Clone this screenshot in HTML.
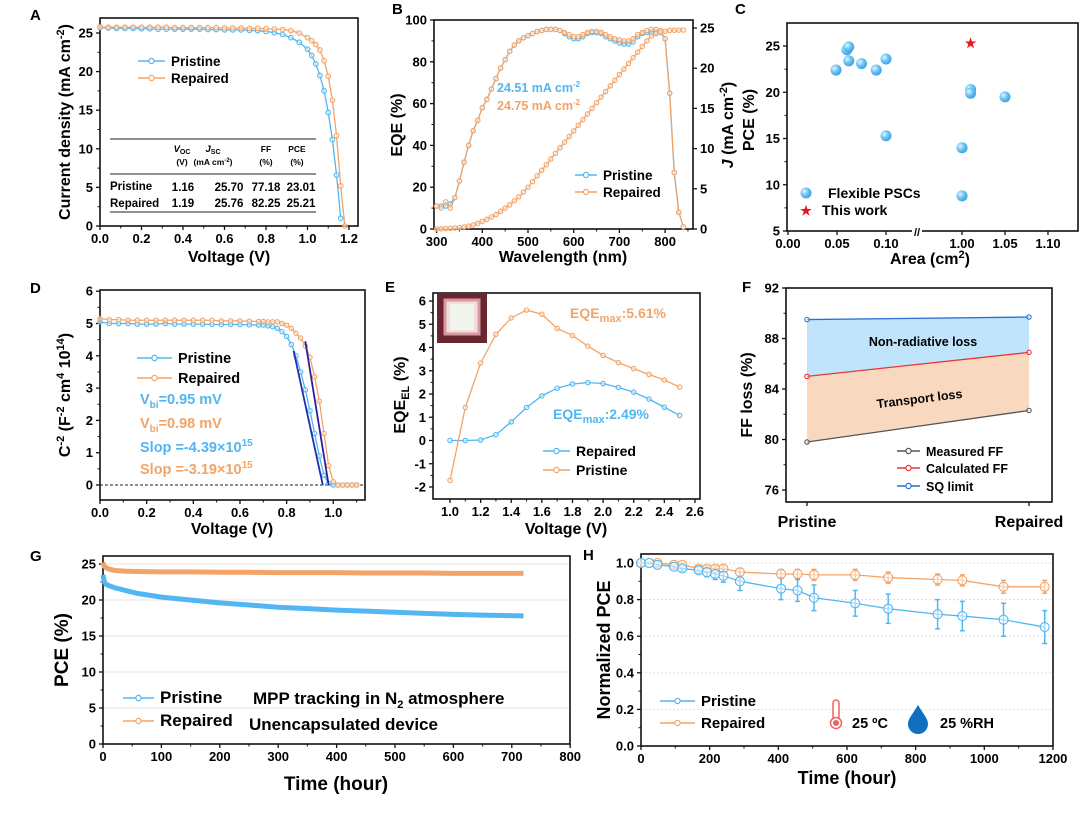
<!DOCTYPE html>
<html><head><meta charset="utf-8"><style>
body{margin:0;background:#fff}
svg{display:block;font-family:"Liberation Sans",sans-serif;font-weight:bold}
</style></head><body>
<svg id="fig" width="1080" height="815" viewBox="0 0 1080 815" xmlns="http://www.w3.org/2000/svg">
<defs>
<radialGradient id="ball" cx="0.35" cy="0.35" r="0.7"><stop offset="0" stop-color="#e6f5ff"/><stop offset="0.5" stop-color="#6cc4f5"/><stop offset="1" stop-color="#3a9ee0"/></radialGradient>
</defs>
</svg>
<script>
// ---------- data ----------
// A
const aVolt=[0,0.04,0.08,0.12,0.16,0.2,0.24,0.28,0.32,0.36,0.4,0.44,0.48,0.52,0.56,0.6,0.64,0.68,0.72,0.76,0.8,0.84,0.88,0.92,0.96,1.0,1.02,1.04,1.06,1.08,1.1,1.12,1.14,1.16];
const aPristine=[25.7,25.65,25.6,25.6,25.6,25.55,25.55,25.5,25.5,25.5,25.5,25.5,25.5,25.45,25.45,25.4,25.4,25.4,25.35,25.3,25.2,25.05,24.8,24.4,23.8,22.9,22.1,21.0,19.5,17.5,14.7,11.2,6.6,1.0];
const aVolt2=[0,0.04,0.08,0.12,0.16,0.2,0.24,0.28,0.32,0.36,0.4,0.44,0.48,0.52,0.56,0.6,0.64,0.68,0.72,0.76,0.8,0.84,0.88,0.92,0.96,1.0,1.02,1.04,1.06,1.08,1.1,1.12,1.14,1.16,1.18];
const aRepaired=[25.76,25.75,25.75,25.75,25.75,25.75,25.75,25.75,25.75,25.7,25.7,25.7,25.7,25.7,25.7,25.65,25.65,25.65,25.6,25.6,25.55,25.5,25.45,25.3,25.0,24.4,24.0,23.5,22.8,21.4,19.4,16.3,11.7,5.2,0.0];
// B
const bWave=[300,310,320,330,340,350,360,370,380,390,400,410,420,430,440,450,460,470,480,490,500,510,520,530,540,550,560,570,580,590,600,610,620,630,640,650,660,670,680,690,700,710,720,730,740,750,760,770,780,790,800,810,820,830,840];
const bEqeRep=[11,10,13,10,15,23,32,40,47,52,58,62,67,72,77,81,85,88,90,91.5,92.5,93.5,94.5,95,95.5,95.5,95.5,95,94,93,92,92,93,94,94.5,94.5,94,93,92,91,90.5,90,90,91,93,94,95,95.5,95.5,95,91,65,27,8,1];
const bEqePri=[11,11,11,12,15,23,32,40,47,52,58,62,67,72,77,81,85,88,90,91.5,92.5,93.5,94.5,95,95.5,95.5,95.5,95,93.5,92,91,91,92,93.5,94,94,93.5,92,91,90,89,88.5,88.5,89.5,92,93.5,94,94,94,94,91,65,27,8,1];
const bJint=[0,0.02,0.05,0.08,0.12,0.17,0.25,0.35,0.5,0.7,0.95,1.2,1.5,1.8,2.2,2.6,3.0,3.5,4.0,4.6,5.2,5.9,6.6,7.3,8.0,8.7,9.4,10.1,10.8,11.5,12.2,12.9,13.6,14.3,15.0,15.7,16.4,17.1,17.8,18.5,19.2,19.9,20.6,21.3,22.0,22.7,23.4,24.0,24.3,24.5,24.6,24.7,24.72,24.74,24.75];
// C
const cArea=[0.049,0.06,0.062,0.062,0.075,0.09,0.1,0.1,1.0,1.0,1.01,1.01,1.05];
const cPce=[22.4,24.6,24.9,23.4,23.1,22.4,23.6,15.3,14.0,8.8,20.3,19.9,19.5];
const cStarArea=[1.01];
const cStarPce=[25.4];
// D
const dVolt=[0,0.04,0.08,0.12,0.16,0.2,0.24,0.28,0.32,0.36,0.4,0.44,0.48,0.52,0.56,0.6,0.64,0.68,0.7,0.72,0.74,0.76,0.78,0.8,0.82,0.84,0.86,0.88,0.9,0.92,0.94,0.96,0.98,1.0,1.02,1.04,1.06,1.08,1.1];
const dPristine=[5.05,5.0,5.0,5.0,4.98,4.98,4.98,5.0,4.98,4.98,4.98,4.98,4.97,4.97,4.97,4.97,4.96,4.95,4.95,4.93,4.9,4.85,4.75,4.6,4.35,4.0,3.5,2.95,2.3,1.6,0.9,0.3,0.05,0,0,0,0,0,0];
const dRepaired=[5.15,5.12,5.12,5.1,5.1,5.1,5.1,5.1,5.1,5.1,5.1,5.1,5.1,5.08,5.08,5.08,5.07,5.06,5.06,5.05,5.05,5.05,5.0,4.95,4.85,4.7,4.55,4.3,3.95,3.35,2.6,1.6,0.6,0.1,0,0,0,0,0];
const dFitPriV=[0.83,0.955];
const dFitPriC=[4.15,0];
const dFitRepV=[0.88,0.98];
const dFitRepC=[4.45,0];
// E
const eVolt=[1.0,1.1,1.2,1.3,1.4,1.5,1.6,1.7,1.8,1.9,2.0,2.1,2.2,2.3,2.4,2.5];
const eRepaired=[0,0,0.02,0.25,0.8,1.42,1.92,2.25,2.43,2.49,2.45,2.28,2.08,1.78,1.43,1.08];
const ePristine=[-1.72,1.42,3.33,4.57,5.27,5.61,5.43,4.82,4.52,4.06,3.66,3.35,3.09,2.84,2.6,2.3];
// F
const fCats=["Pristine","Repaired"];
const fMeasured=[79.8,82.3];
const fCalculated=[85.0,86.9];
const fSQ=[89.5,89.7];
// G
const gTime=[0,2,5,10,20,40,60,100,150,200,250,300,350,400,450,500,550,600,650,720];
const gPristine=[23.5,22.6,22.2,22.0,21.7,21.3,20.9,20.4,20.0,19.6,19.3,19.0,18.8,18.6,18.45,18.3,18.15,18.0,17.9,17.8];
const gRepaired=[25.2,24.7,24.5,24.3,24.1,24.0,23.95,23.9,23.9,23.85,23.85,23.8,23.8,23.8,23.75,23.75,23.75,23.7,23.7,23.7];
// H
const hTime=[0,24,48,96,120,168,192,216,240,288,408,456,504,624,720,864,936,1056,1176];
const hPristine=[1.0,1.0,0.99,0.98,0.97,0.96,0.95,0.94,0.93,0.90,0.86,0.85,0.81,0.78,0.75,0.72,0.71,0.69,0.65];
const hPriErr=[0,0.005,0.01,0.01,0.015,0.02,0.025,0.03,0.035,0.05,0.06,0.06,0.07,0.07,0.08,0.08,0.08,0.09,0.09];
const hRepaired=[1.0,1.0,1.0,0.99,0.99,0.97,0.97,0.97,0.97,0.95,0.94,0.94,0.935,0.935,0.92,0.91,0.905,0.87,0.87];
const hRepErr=[0,0.005,0.01,0.01,0.01,0.015,0.015,0.015,0.02,0.02,0.025,0.025,0.03,0.03,0.03,0.03,0.03,0.035,0.035];

// ---------- helpers ----------
const S='http://www.w3.org/2000/svg';
const svg=document.getElementById('fig');
const BLUE='#52b6f2',ORANGE='#f2a468';
function mk(tag,attrs,parent){const e=document.createElementNS(S,tag);for(const k in attrs)e.setAttribute(k,attrs[k]);(parent||svg).appendChild(e);return e;}
function txt(x,y,s,size,name,opts){
  opts=opts||{};
  const t=mk('text',{x:x,y:y,'font-size':size,fill:opts.fill||'#000','text-anchor':opts.anchor||'start'});
  if(opts.rot!==undefined)t.setAttribute('transform','rotate('+opts.rot+' '+x+' '+y+')');
  t.innerHTML=s;
  
  
  return t;
}
function frame(x0,y0,x1,y1,name){
  const r=mk('rect',{x:x0,y:y0,width:x1-x0,height:y1-y0,fill:'none',stroke:'#111','stroke-width':1.6});
  
  
}
function xAxis(sc,vals,labels,yb,pfx,minor){
  vals.forEach((v,i)=>{
    const l=mk('line',{x1:sc(v),x2:sc(v),y1:yb,y2:yb+4,stroke:'#111','stroke-width':1.3});
    
    
    txt(sc(v),yb+17,labels[i],13,pfx+'-x-tick-label',{anchor:'middle'});
  });
  (minor||[]).forEach(v=>{mk('line',{x1:sc(v),x2:sc(v),y1:yb,y2:yb+2.5,stroke:'#111','stroke-width':1});});
}
function yAxis(sc,vals,labels,xb,pfx,side,minor){
  const d=side==='r'?1:-1;
  vals.forEach((v,i)=>{
    const l=mk('line',{x1:xb,x2:xb+4*d,y1:sc(v),y2:sc(v),stroke:'#111','stroke-width':1.3});
    
    
    txt(xb+7*d,sc(v)+4.5,labels[i],13,pfx+'-y-tick-label',{anchor:side==='r'?'start':'end'});
  });
  (minor||[]).forEach(v=>{mk('line',{x1:xb,x2:xb+2.5*d,y1:sc(v),y2:sc(v),stroke:'#111','stroke-width':1});});
}
function series(xs,ys,sx,sy,color,name,r,w){
  const p=mk('polyline',{points:xs.map((x,i)=>sx(x)+','+sy(ys[i])).join(' '),fill:'none',stroke:color,'stroke-width':w||1.3});
  
  
  if(r){xs.forEach((x,i)=>{
    const c=mk('circle',{cx:sx(x),cy:sy(ys[i]),r:r,fill:'#fff','fill-opacity':0.5,stroke:color,'stroke-width':1.1});
    
    
  });}
}
function legend(x,y,color,label,name,size,len){
  len=len||27;
  const l=mk('line',{x1:x,x2:x+len,y1:y,y2:y,stroke:color,'stroke-width':1.5});
  
  
  mk('circle',{cx:x+len/2,cy:y,r:2.6,fill:'#fff',stroke:color,'stroke-width':1.2});
  txt(x+len+6,y+5,label,size||14,name);
}
function range(a,b,s){const r=[];for(let v=a;v<=b+1e-9;v+=s)r.push(Math.round(v*1000)/1000);return r;}

// ---------- Panel A ----------
{
const sx=v=>100+v/1.2*249, sy=j=>226-j/25*193;
txt(30,20,'A',15,'panel-a-letter');
frame(100,18,358,226,'panel-a-frame');
const xv=range(0,1.2,0.2);xAxis(sx,xv,xv.map(v=>v.toFixed(1)),226,'panel-a',range(0.1,1.1,0.2));
const yv=range(0,25,5);yAxis(sy,yv,yv.map(String),100,'panel-a','l',range(2.5,22.5,5));
txt(229,262,'Voltage (V)',16,'panel-a-x-title',{anchor:'middle'});
txt(70,122,'Current density (mA cm<tspan dy="-6" font-size="11">-2</tspan><tspan dy="6">)</tspan>',16,'panel-a-y-title',{anchor:'middle',rot:-90});
series(aVolt,aPristine,sx,sy,BLUE,'panel-a-pristine',2.3);
series(aVolt2,aRepaired,sx,sy,ORANGE,'panel-a-repaired',2.3);
legend(138,61,BLUE,'Pristine','panel-a-legend-pristine',13.5);
legend(138,78,ORANGE,'Repaired','panel-a-legend-repaired',13.5);
[139,174,212].forEach(y=>mk('line',{x1:110,x2:316,y1:y,y2:y,stroke:'#222','stroke-width':1}));
txt(182,152,'<tspan font-style="italic">V</tspan><tspan font-size="7" dy="2">OC</tspan>',9.5,'table-header-voc',{anchor:'middle'});
txt(182,165,'(V)',8.5,'table-unit-voc',{anchor:'middle'});
txt(213,152,'<tspan font-style="italic">J</tspan><tspan font-size="7" dy="2">SC</tspan>',9.5,'table-header-jsc',{anchor:'middle'});
txt(213,165,'(mA cm<tspan dy="-3" font-size="6">-2</tspan><tspan dy="3">)</tspan>',8.5,'table-unit-jsc',{anchor:'middle'});
txt(266,152,'FF',8.5,'table-header-ff',{anchor:'middle'});
txt(266,165,'(%)',8.5,'table-unit-ff',{anchor:'middle'});
txt(297,152,'PCE',8.5,'table-header-pce',{anchor:'middle'});
txt(297,165,'(%)',8.5,'table-unit-pce',{anchor:'middle'});
txt(110,190,'Pristine',11.5,'table-row-pristine');
['1.16','25.70','77.18','23.01'].forEach((s,i)=>txt([183,229,266,301][i],191,s,11.5,'table-cell-pristine',{anchor:'middle'}));
txt(110,207,'Repaired',11.5,'table-row-repaired');
['1.19','25.76','82.25','25.21'].forEach((s,i)=>txt([183,229,266,301][i],207,s,11.5,'table-cell-repaired',{anchor:'middle'}));
}
// ---------- Panel B ----------
{
const sx=w=>436.6+(w-300)*0.457, syL=e=>229-e*2.09, syR=j=>229-j*8.04;
txt(392,14,'B',15,'panel-b-letter');
frame(434,20,693,229,'panel-b-frame');
const xv=range(300,800,100);xAxis(sx,xv,xv.map(String),229,'panel-b',range(350,850,100));
const yv=range(0,100,20);yAxis(syL,yv,yv.map(String),434,'panel-b','l',range(10,90,20));
const rv=range(0,25,5);yAxis(syR,rv,rv.map(String),693,'panel-b-right','r');
txt(563,262,'Wavelength (nm)',16,'panel-b-x-title',{anchor:'middle'});
txt(402,125,'EQE (%)',16,'panel-b-y-title',{anchor:'middle',rot:-90});
txt(733,125,'<tspan font-style="italic">J</tspan> (mA cm<tspan dy="-6" font-size="11">-2</tspan><tspan dy="6">)</tspan>',16,'panel-b-right-y-title',{anchor:'middle',rot:-90});
series(bWave,bEqePri,sx,syL,BLUE,'panel-b-eqe-pristine',2.2);
series(bWave,bEqeRep,sx,syL,ORANGE,'panel-b-eqe-repaired',2.2);
series(bWave,bJint,sx,syR,ORANGE,'panel-b-jint',2.2);
txt(497,92,'24.51 mA cm<tspan dy="-5" font-size="8">-2</tspan>',12.5,'panel-b-jsc-pristine',{fill:BLUE});
txt(497,110,'24.75 mA cm<tspan dy="-5" font-size="8">-2</tspan>',12.5,'panel-b-jsc-repaired',{fill:ORANGE});
legend(575,175,BLUE,'Pristine','panel-b-legend-pristine',13.5,22);
legend(575,192,ORANGE,'Repaired','panel-b-legend-repaired',13.5,22);
}
// ---------- Panel C ----------
{
const sx=a=>a<=0.5?788+a/0.05*49:962+(a-1.0)/0.05*43, sy=p=>231-(p-5)*9.25;
txt(735,14,'C',15,'panel-c-letter');
frame(787,23,1078,231,'panel-c-frame');
const xv=[0,0.05,0.1,1.0,1.05,1.1];xAxis(sx,xv,['0.00','0.05','0.10','1.00','1.05','1.10'],231,'panel-c');
mk('rect',{x:912,y:226,width:10,height:10,fill:'#fff'});
txt(917,236,'//',11,'axis-break',{anchor:'middle'});
const yv=range(5,25,5);yAxis(sy,yv,yv.map(String),787,'panel-c','l',range(7.5,22.5,5));
txt(930,264,'Area (cm<tspan dy="-6" font-size="11">2</tspan><tspan dy="6">)</tspan>',16,'panel-c-x-title',{anchor:'middle'});
txt(754,120,'PCE (%)',16,'panel-c-y-title',{anchor:'middle',rot:-90});
cArea.forEach((a,i)=>{
  const c=mk('circle',{cx:sx(a),cy:sy(cPce[i]),r:5.5,fill:'url(#ball)'});
  
  
});
cStarArea.forEach((a,i)=>{
  txt(sx(a),sy(cStarPce[i])+5,'★',13,'this-work-star',{anchor:'middle',fill:'#e8141c'});
});
mk('circle',{cx:806,cy:193,r:5.5,fill:'url(#ball)'});
txt(828,198,'Flexible PSCs',14,'panel-c-legend-flexible');
txt(806,215,'★',13,'panel-c-legend-star',{anchor:'middle',fill:'#e8141c'});
txt(822,215,'This work',14,'panel-c-legend-this-work');
}
// ---------- Panel D ----------
{
const sx=v=>100+v*233.3, sy=c=>485-c*32.3;
txt(30,293,'D',15,'panel-d-letter');
frame(100,290,365,500,'panel-d-frame');
const xv=range(0,1.0,0.2);xAxis(sx,xv,xv.map(v=>v.toFixed(1)),500,'panel-d',range(0.1,1.1,0.2));
const yv=range(0,6,1);yAxis(sy,yv,yv.map(String),100,'panel-d','l',range(0.5,5.5,1));
txt(232,534,'Voltage (V)',16,'panel-d-x-title',{anchor:'middle'});
txt(70,395,'C<tspan dy="-6" font-size="11">-2</tspan><tspan dy="6"> (F</tspan><tspan dy="-6" font-size="11">-2</tspan><tspan dy="6"> cm</tspan><tspan dy="-6" font-size="11">4</tspan><tspan dy="6"> 10</tspan><tspan dy="-6" font-size="11">14</tspan><tspan dy="6">)</tspan>',16,'panel-d-y-title',{anchor:'middle',rot:-90});
const z=mk('line',{x1:100,x2:365,y1:sy(0),y2:sy(0),stroke:'#222','stroke-width':0.9,'stroke-dasharray':'3,2'});


series(dVolt,dPristine,sx,sy,BLUE,'panel-d-pristine',2.2);
series(dVolt,dRepaired,sx,sy,ORANGE,'panel-d-repaired',2.2);
series(dFitPriV,dFitPriC,sx,sy,'#1f2fb0','panel-d-fit-pristine',0,1.8);
series(dFitRepV,dFitRepC,sx,sy,'#2a1fa0','panel-d-fit-repaired',0,1.8);
legend(137,358,BLUE,'Pristine','panel-d-legend-pristine',14.5,35);
legend(137,378,ORANGE,'Repaired','panel-d-legend-repaired',14.5,35);
txt(140,404,'V<tspan dy="4" font-size="10">bi</tspan><tspan dy="-4">=0.95 mV</tspan>',14.5,'vbi-pristine',{fill:BLUE});
txt(140,428,'V<tspan dy="4" font-size="10">bi</tspan><tspan dy="-4">=0.98 mV</tspan>',14.5,'vbi-repaired',{fill:ORANGE});
txt(140,452,'Slop =-4.39×10<tspan dy="-6" font-size="10">15</tspan>',14.5,'slope-pristine',{fill:BLUE});
txt(140,474,'Slop =-3.19×10<tspan dy="-6" font-size="10">15</tspan>',14.5,'slope-repaired',{fill:ORANGE});
}
// ---------- Panel E ----------
{
const sx=v=>450+(v-1)*153.1, sy=e=>487-(e+2)*23.25;
txt(385,292,'E',15,'panel-e-letter');
frame(433,293,700,499,'panel-e-frame');
const xv=range(1.0,2.6,0.2);xAxis(sx,xv,xv.map(v=>v.toFixed(1)),499,'panel-e',range(1.1,2.5,0.2));
const yv=range(-2,6,1);yAxis(sy,yv,yv.map(String),433,'panel-e','l',range(-1.5,5.5,1));
txt(566,534,'Voltage (V)',16,'panel-e-x-title',{anchor:'middle'});
txt(405,395,'EQE<tspan dy="4" font-size="11">EL</tspan><tspan dy="-4"> (%)</tspan>',16,'panel-e-y-title',{anchor:'middle',rot:-90});
const ins=mk('rect',{x:437,y:293,width:50,height:50,fill:'#6a2630'});


mk('rect',{x:445,y:300,width:34,height:34,fill:'#f3dcdc',stroke:'#d89aa0','stroke-width':3});
mk('rect',{x:450,y:304,width:24,height:26,fill:'#f2f5ee'});
series(eVolt,eRepaired,sx,sy,BLUE,'panel-e-repaired',2.2);
series(eVolt,ePristine,sx,sy,ORANGE,'panel-e-pristine',2.2);
txt(570,318,'EQE<tspan dy="4" font-size="11">max</tspan><tspan dy="-4">:5.61%</tspan>',14,'eqe-max-pristine',{fill:ORANGE});
txt(553,419,'EQE<tspan dy="4" font-size="11">max</tspan><tspan dy="-4">:2.49%</tspan>',14,'eqe-max-repaired',{fill:BLUE});
legend(543,451,BLUE,'Repaired','panel-e-legend-repaired',14);
legend(543,470,ORANGE,'Pristine','panel-e-legend-pristine',14);
}
// ---------- Panel F ----------
{
const xs=[807,1029], sy=f=>288+(92-f)*12.625;
txt(742,292,'F',15,'panel-f-letter');
const a1=mk('polygon',{points:[xs[0]+','+sy(fSQ[0]),xs[1]+','+sy(fSQ[1]),xs[1]+','+sy(fCalculated[1]),xs[0]+','+sy(fCalculated[0])].join(' '),fill:'#bfe4fb'});


const a2=mk('polygon',{points:[xs[0]+','+sy(fCalculated[0]),xs[1]+','+sy(fCalculated[1]),xs[1]+','+sy(fMeasured[1]),xs[0]+','+sy(fMeasured[0])].join(' '),fill:'#f9d8c0'});


frame(786,288,1052,502,'panel-f-frame');
const yv=range(76,92,4);yAxis(sy,yv,yv.map(String),786,'panel-f','l',range(78,90,4));
xs.forEach((x,i)=>{mk('line',{x1:x,x2:x,y1:502,y2:506,stroke:'#111','stroke-width':1.3});txt(x,527,fCats[i],16,'panel-f-category-label',{anchor:'middle'});});
txt(752,395,'FF loss (%)',16,'panel-f-y-title',{anchor:'middle',rot:-90});
series([0,1],fMeasured,i=>xs[i],sy,'#555','measured-ff',2.2);
series([0,1],fCalculated,i=>xs[i],sy,'#e8363a','calculated-ff',2.2);
series([0,1],fSQ,i=>xs[i],sy,'#2a6fd6','sq-limit',2.2);
txt(923,346,'Non-radiative loss',12.5,'non-radiative-loss-label',{anchor:'middle'});
txt(920,403,'Transport loss',12.5,'transport-loss-label',{anchor:'middle',rot:-7});
legend(897,451,'#555','Measured FF','panel-f-legend-measured',12.5,23);
legend(897,468,'#e8363a','Calculated FF','panel-f-legend-calculated',12.5,23);
legend(897,486,'#2a6fd6','SQ limit','panel-f-legend-sq',12.5,23);
}
// ---------- Panel G ----------
{
const sx=t=>103+t*0.584, sy=p=>744-p*7.2;
txt(30,561,'G',15,'panel-g-letter');
range(5,25,5).forEach(v=>mk('line',{x1:103,x2:570,y1:sy(v),y2:sy(v),stroke:'#e6e6e6','stroke-width':1}));
frame(103,556,570,744,'panel-g-frame');
const xv=range(0,800,100);xAxis(sx,xv,xv.map(String),744,'panel-g',range(50,750,100));
const yv=range(0,25,5);yAxis(sy,yv,yv.map(String),103,'panel-g','l',range(2.5,22.5,5));
txt(336,790,'Time (hour)',19,'panel-g-x-title',{anchor:'middle'});
txt(68,650,'PCE (%)',19,'panel-g-y-title',{anchor:'middle',rot:-90});
series(gTime,gRepaired,sx,sy,ORANGE,'panel-g-repaired',0,5);
series(gTime,gPristine,sx,sy,BLUE,'panel-g-pristine',0,5);
legend(123,698,BLUE,'Pristine','panel-g-legend-pristine',17,31);
legend(123,721,ORANGE,'Repaired','panel-g-legend-repaired',17,31);
txt(253,704,'MPP tracking in N<tspan dy="4" font-size="11">2</tspan><tspan dy="-4"> atmosphere</tspan>',17,'mpp-tracking-note');
txt(249,730,'Unencapsulated device',17,'unencapsulated-note');
}
// ---------- Panel H ----------
{
const sx=t=>641+t*0.3433, sy=n=>746-n*183;
txt(583,560,'H',15,'panel-h-letter');
range(0.2,1.0,0.2).forEach(v=>mk('line',{x1:641,x2:1053,y1:sy(v),y2:sy(v),stroke:'#ddd','stroke-width':1,'stroke-dasharray':'2,2'}));
frame(641,554,1053,746,'panel-h-frame');
const xv=range(0,1200,200);xAxis(sx,xv,xv.map(String),746,'panel-h',range(100,1100,200));
const yv=range(0,1.0,0.2);yAxis(sy,yv,yv.map(v=>v.toFixed(1)),641,'panel-h','l',range(0.1,0.9,0.2));
txt(847,784,'Time (hour)',18,'panel-h-x-title',{anchor:'middle'});
txt(610,650,'Normalized PCE',18,'panel-h-y-title',{anchor:'middle',rot:-90});
function errs(vals,err,color,name){vals.forEach((v,i)=>{
  const x=sx(hTime[i]);
  const e=mk('path',{d:`M${x},${sy(v+err[i])}V${sy(v-err[i])}M${x-2.5},${sy(v+err[i])}h5M${x-2.5},${sy(v-err[i])}h5`,stroke:color,'stroke-width':1.5,fill:'none'});
  
  
});}
errs(hRepaired,hRepErr,ORANGE,'panel-h-repaired');
errs(hPristine,hPriErr,BLUE,'panel-h-pristine');
series(hTime,hRepaired,sx,sy,ORANGE,'panel-h-repaired',4.5);
series(hTime,hPristine,sx,sy,BLUE,'panel-h-pristine',4.5);
legend(660,701,BLUE,'Pristine','panel-h-legend-pristine',15,35);
legend(660,723,ORANGE,'Repaired','panel-h-legend-repaired',15,35);
const th=mk('g',{});


mk('rect',{x:833,y:700,width:6,height:20,rx:3,fill:'#fff',stroke:'#f06060','stroke-width':1.5},th);
mk('circle',{cx:836,cy:723,r:5.5,fill:'#fff',stroke:'#f06060','stroke-width':1.5},th);
mk('circle',{cx:836,cy:723,r:3,fill:'#f06060'},th);
txt(852,728,'25 ºC',14.5,'temperature-label');
const dr=mk('path',{d:'M918,705 C912,715 908,719 908,724 a10,10 0 0 0 20,0 C928,719 924,715 918,705Z',fill:'#1070c0'});


txt(940,728,'25 %RH',14.5,'humidity-label');
}
</script>
</body></html>
